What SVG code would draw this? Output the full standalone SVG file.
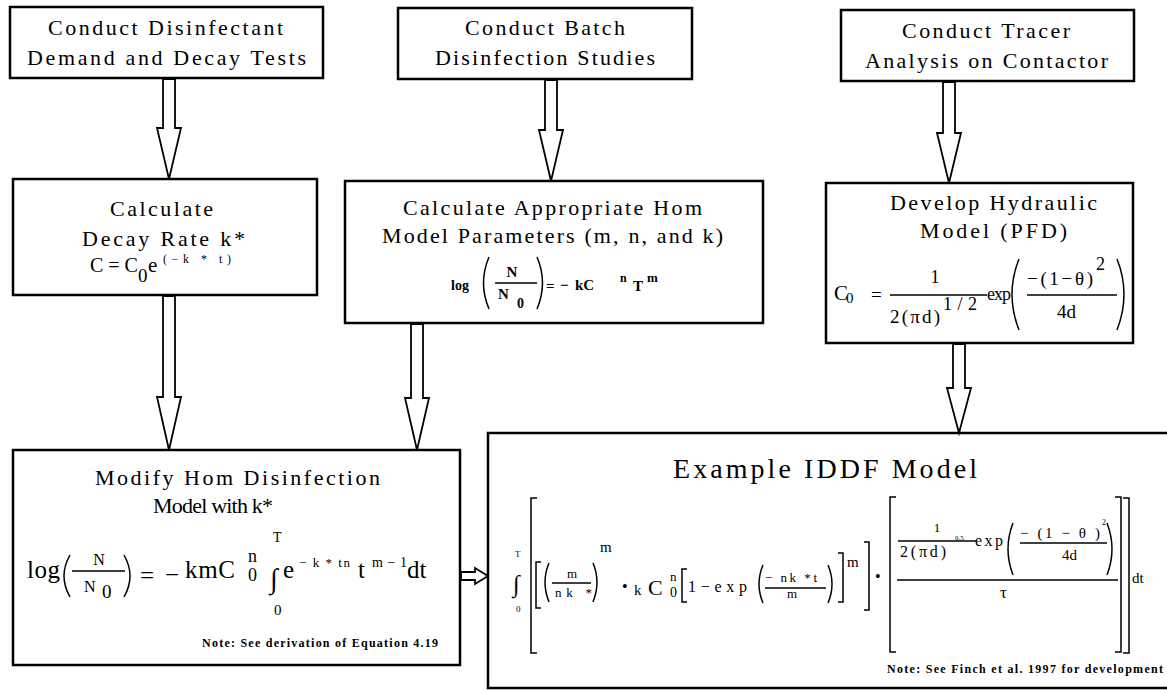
<svg xmlns="http://www.w3.org/2000/svg" width="1167" height="691" viewBox="0 0 1167 691">
  <style>
    .box { fill: #fff; stroke: #000; stroke-width: 2.5; }
    .arrow { fill: #fff; stroke: #000; stroke-width: 1.8; stroke-linejoin: miter; }
    .t { font-family: "Liberation Serif", "Times New Roman", serif; font-size: 22px; fill: #000; }
    .big { font-size: 28px; }
    .m { font-family: "Liberation Serif", "DejaVu Serif", serif; fill: #000; }
    .b { font-weight: bold; }
    .note { font-family: "Liberation Serif", "Times New Roman", serif; font-size: 12px; font-weight: bold; fill: #000; }
    .delim { fill: none; stroke: #000; stroke-width: 1.5; }
    .rule { stroke: #000; stroke-width: 1.5; }
  </style>
  <rect width="1167" height="691" fill="#fff"/>

  <!-- top row -->
  <g id="decay-tests">
    <rect class="box" x="10" y="7" width="313" height="71"/>
    <text class="t" x="48" y="35" textLength="235" lengthAdjust="spacing">Conduct Disinfectant</text>
    <text class="t" x="27" y="65" textLength="279" lengthAdjust="spacing">Demand and Decay Tests</text>
  </g>
  <g id="batch-studies">
    <rect class="box" x="398" y="8" width="294" height="71"/>
    <text class="t" x="465" y="35" textLength="160" lengthAdjust="spacing">Conduct Batch</text>
    <text class="t" x="435" y="65" textLength="220" lengthAdjust="spacing">Disinfection Studies</text>
  </g>
  <g id="tracer-analysis">
    <rect class="box" x="841" y="10" width="293" height="71"/>
    <text class="t" x="902" y="38" textLength="168" lengthAdjust="spacing">Conduct Tracer</text>
    <text class="t" x="865" y="68" textLength="243" lengthAdjust="spacing">Analysis on Contactor</text>
  </g>

  <!-- middle row -->
  <g id="decay-rate">
    <rect class="box" x="13" y="179" width="304" height="116"/>
    <text class="t" x="110" y="216" textLength="103" lengthAdjust="spacing">Calculate</text>
    <text class="t" x="82" y="246" textLength="163" lengthAdjust="spacing">Decay Rate k*</text>
    <text class="m" x="90" y="272" font-size="20">C = C</text>
    <text class="m" x="138" y="282" font-size="19">0</text>
    <text class="m" x="148" y="272" font-size="21">e</text>
    <text class="m" x="163" y="263" font-size="12" textLength="68" lengthAdjust="spacing">(−k * t)</text>
  </g>

  <g id="hom-parameters">
    <rect class="box" x="345" y="181" width="418" height="142"/>
    <text class="t" x="403" y="215" textLength="299" lengthAdjust="spacing">Calculate Appropriate Hom</text>
    <text class="t" x="382" y="243" textLength="341" lengthAdjust="spacing">Model Parameters (m, n, and k)</text>
    <text class="m b" x="451" y="290" font-size="14">log</text>
    <path class="delim" d="M489,257 Q478,283 489,309"/>
    <path class="delim" d="M537,257 Q548,283 537,309"/>
    <line class="rule" x1="495" y1="283" x2="537" y2="283"/>
    <text class="m b" x="512" y="277" font-size="15" text-anchor="middle">N</text>
    <text class="m b" x="498" y="299" font-size="15">N</text>
    <text class="m b" x="517" y="308" font-size="14">0</text>
    <text class="m b" x="546" y="291" font-size="15">=</text>
    <text class="m b" x="560" y="290" font-size="15">−</text>
    <text class="m b" x="575" y="290" font-size="15">kC</text>
    <text class="m b" x="620" y="282" font-size="12">n</text>
    <text class="m b" x="633" y="291" font-size="15">T</text>
    <text class="m b" x="647" y="282" font-size="13">m</text>
  </g>

  <g id="hydraulic-model">
    <rect class="box" x="826" y="183" width="307" height="160"/>
    <text class="t" x="890" y="210" textLength="207" lengthAdjust="spacing">Develop Hydraulic</text>
    <text class="t" x="920" y="238" textLength="147" lengthAdjust="spacing">Model (PFD)</text>
    <text class="m" x="834" y="300" font-size="21">C</text>
    <text class="m" x="846" y="303" font-size="15">0</text>
    <text class="m" x="871" y="301" font-size="19">=</text>
    <line class="rule" x1="890" y1="295" x2="987" y2="295"/>
    <text class="m" x="935" y="283" font-size="18" text-anchor="middle">1</text>
    <text class="m" x="890" y="323" font-size="19" textLength="50" lengthAdjust="spacing">2(πd)</text>
    <text class="m" x="943" y="310" font-size="18" textLength="34" lengthAdjust="spacing">1/2</text>
    <text class="m" x="987" y="300" font-size="18" textLength="24" lengthAdjust="spacing">exp</text>
    <path class="delim" d="M1019,259 Q1005,294 1019,330"/>
    <path class="delim" d="M1117,259 Q1131,294 1117,330"/>
    <text class="m" x="1027" y="285" font-size="19" textLength="66" lengthAdjust="spacing">−(1−θ)</text>
    <text class="m" x="1096" y="270" font-size="18">2</text>
    <line class="rule" x1="1027" y1="295" x2="1117" y2="295"/>
    <text class="m" x="1057" y="318" font-size="19">4d</text>
  </g>

  <!-- bottom row -->
  <g id="modified-hom">
    <rect class="box" x="13" y="450" width="447" height="215"/>
    <text class="t" x="95" y="485" textLength="285" lengthAdjust="spacing">Modify Hom Disinfection</text>
    <text class="t" x="153" y="513" textLength="120" lengthAdjust="spacing" font-size="20">Model with k*</text>
    <text class="m" x="27" y="578" font-size="25" textLength="33" lengthAdjust="spacing">log</text>
    <path class="delim" d="M70,555 Q58,576 70,597"/>
    <path class="delim" d="M124,555 Q136,576 124,597"/>
    <line class="rule" x1="72" y1="571" x2="125" y2="571"/>
    <text class="m" x="99" y="565" font-size="16" text-anchor="middle">N</text>
    <text class="m" x="84" y="592" font-size="16">N</text>
    <text class="m" x="102" y="598" font-size="19">0</text>
    <text class="m" x="140" y="584" font-size="25">=</text>
    <text class="m" x="165" y="583" font-size="25">−</text>
    <text class="m" x="185" y="578" font-size="25" textLength="50" lengthAdjust="spacing">kmC</text>
    <text class="m" x="248" y="562" font-size="18">n</text>
    <text class="m" x="248" y="581" font-size="18">0</text>
    <text class="m" x="270" y="588" font-size="28">∫</text>
    <text class="m" x="273" y="542" font-size="14">T</text>
    <text class="m" x="274" y="615" font-size="15">0</text>
    <text class="m" x="283" y="578" font-size="25">e</text>
    <text class="m" x="299" y="567" font-size="13" textLength="51" lengthAdjust="spacing">− k * tn</text>
    <text class="m" x="358" y="578" font-size="25">t</text>
    <text class="m" x="372" y="567" font-size="14" textLength="35" lengthAdjust="spacing">m − 1</text>
    <text class="m" x="407" y="578" font-size="25">dt</text>
    <text class="note" x="202" y="647" textLength="236" lengthAdjust="spacing">Note:  See derivation of Equation 4.19</text>
  </g>

  <g id="iddf-model">
    <rect class="box" x="488" y="433" width="720" height="255"/>
    <text class="t big" x="673" y="478" textLength="304" lengthAdjust="spacing">Example IDDF Model</text>
    <!-- integral and outer bracket -->
    <text class="m" x="513" y="592" font-size="24">∫</text>
    <text class="m" x="515" y="557" font-size="9">T</text>
    <text class="m" x="516" y="612" font-size="9">0</text>
    <path class="delim" d="M537,498 L531,498 L531,653 L537,653"/>
    <!-- kinetic term -->
    <path class="delim" d="M541,562 L536,562 L536,608 L541,608"/>
    <path class="delim" d="M549,563 Q541,582 549,602"/>
    <path class="delim" d="M593,563 Q601,582 593,602"/>
    <line class="rule" x1="552" y1="583" x2="591" y2="583"/>
    <text class="m" x="572" y="578" font-size="13" text-anchor="middle">m</text>
    <text class="m" x="555" y="597" font-size="13" textLength="37" lengthAdjust="spacing">nk *</text>
    <text class="m" x="600" y="552" font-size="15">m</text>
    <text class="m" x="622" y="592" font-size="16">•</text>
    <text class="m" x="634" y="595" font-size="15">k</text>
    <text class="m" x="648" y="595" font-size="22">C</text>
    <text class="m" x="670" y="581" font-size="13">n</text>
    <text class="m" x="670" y="597" font-size="14">0</text>
    <path class="delim" d="M687,569 L682,569 L682,602 L687,602"/>
    <text class="m" x="688" y="592" font-size="16" textLength="59" lengthAdjust="spacing">1−exp</text>
    <path class="delim" d="M763,565 Q755,584 763,603"/>
    <line class="rule" x1="765" y1="588" x2="826" y2="588"/>
    <text class="m" x="765" y="582" font-size="13" textLength="52" lengthAdjust="spacing">− nk *t</text>
    <text class="m" x="792" y="598" font-size="13" text-anchor="middle">m</text>
    <path class="delim" d="M828,565 Q836,584 828,603"/>
    <path class="delim" d="M838,553 L843,553 L843,602 L838,602"/>
    <text class="m" x="847" y="567" font-size="15">m</text>
    <path class="delim" d="M864,542 L869,542 L869,610 L864,610"/>
    <text class="m" x="875" y="582" font-size="16">•</text>
    <!-- hydraulic term -->
    <path class="delim" d="M896,497 L890,497 L890,652 L896,652"/>
    <text class="m" x="937" y="532" font-size="13" text-anchor="middle">1</text>
    <line class="rule" x1="898" y1="541" x2="977" y2="541"/>
    <text class="m" x="900" y="557" font-size="16" textLength="46" lengthAdjust="spacing">2(πd)</text>
    <text class="m" x="955" y="540" font-size="7">0.5</text>
    <text class="m" x="975" y="546" font-size="16" textLength="28" lengthAdjust="spacing">exp</text>
    <path class="delim" d="M1013,523 Q1003,549 1013,575"/>
    <path class="delim" d="M1107,523 Q1117,549 1107,575"/>
    <text class="m" x="1020" y="538" font-size="15" textLength="80" lengthAdjust="spacing">− (1 − θ )</text>
    <text class="m" x="1102" y="525" font-size="8">2</text>
    <line class="rule" x1="1020" y1="543" x2="1107" y2="543"/>
    <text class="m" x="1062" y="560" font-size="15">4d</text>
    <line class="rule" x1="897" y1="580" x2="1118" y2="580"/>
    <text class="m" x="1000" y="598" font-size="17">τ</text>
    <path class="delim" d="M1115,497 L1121,497 L1121,652 L1115,652"/>
    <path class="delim" d="M1123,498 L1129,498 L1129,653 L1123,653"/>
    <text class="m" x="1132" y="583" font-size="15">dt</text>
    <text class="note" x="887" y="673" font-size="11.5" textLength="276" lengthAdjust="spacing">Note:  See Finch et al. 1997 for development</text>
  </g>

  <!-- hollow block arrows -->
  <g id="connectors">
    <polygon class="arrow" points="163,79 163,128 157,128 169,179 181,128 175,128 175,79"/>
    <polygon class="arrow" points="545,80 545,130 539,130 551,181 563,130 557,130 557,80"/>
    <polygon class="arrow" points="943,82 943,133 937,133 949,183 961,133 955,133 955,82"/>
    <polygon class="arrow" points="163,296 163,397 157,397 169,450 181,397 175,397 175,296"/>
    <polygon class="arrow" points="411,324 411,398 405,398 417,450 429,398 423,398 423,324"/>
    <polygon class="arrow" points="953,344 953,388 947,388 959,433 971,388 965,388 965,344"/>
    <polygon class="arrow" points="461,572 475,572 475,568 488,576 475,584 475,580 461,580"/>
  </g>
</svg>
